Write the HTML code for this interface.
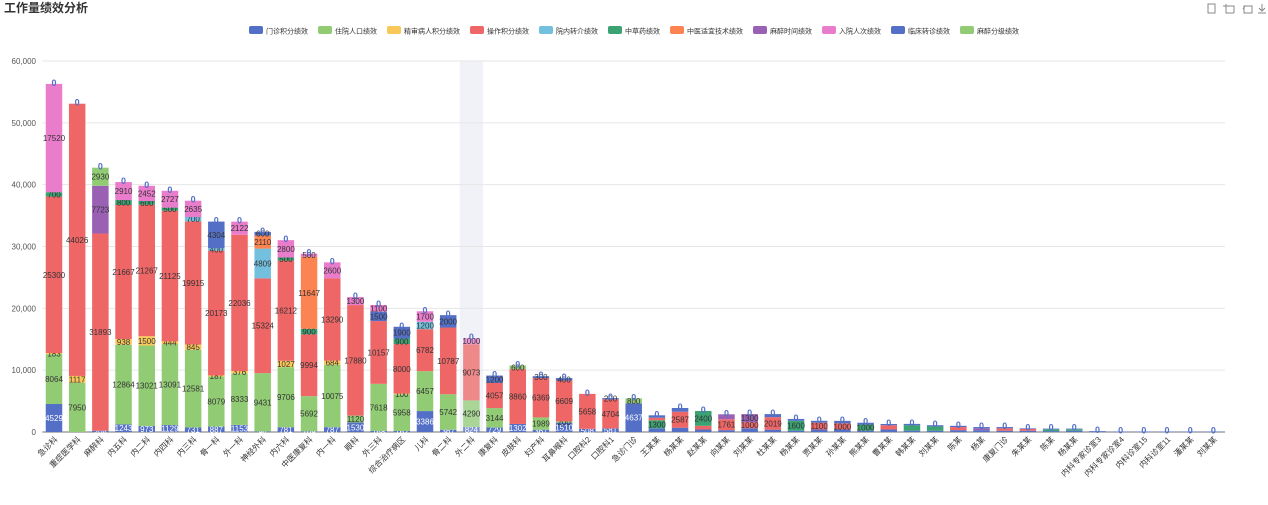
<!DOCTYPE html>
<html><head><meta charset="utf-8">
<style>
body{margin:0;background:#fff;width:1268px;height:500px;overflow:hidden;font-family:"Liberation Sans","Noto Sans CJK SC",sans-serif;}
</style></head><body>
<svg id="s" width="1268" height="500" xmlns="http://www.w3.org/2000/svg" font-family="Liberation Sans, Noto Sans CJK SC, sans-serif"></svg>
<script>
const C=['#5470c6','#91cc75','#fac858','#ee6666','#73c0de','#3ba272','#fc8452','#9a60b4','#ea7ccc','#5470c6','#91cc75'];
const names=['门诊积分绩效','住院人口绩效','精审病人积分绩效','操作积分绩效','院内转介绩效','中草药绩效','中医适宜技术绩效','麻醉时间绩效','入院人次绩效','临床转诊绩效','麻醉分级绩效'];
const cats=['急诊科','重症医学科','麻醉科','内五科','内二科','内四科','内三科','骨一科','外一科','神经外科','内六科','中医康复科','内一科','眼科','外三科','综合治疗病区','儿科','骨二科','外二科','康复科','皮肤科','妇产科','耳鼻喉科','口腔科2','口腔科1','急诊门诊','王某某','杨某某','赵某某','向某某','刘某某','杜某某','杨某某','贾某某','孙某某','熊某某','曹某某','韩某某','刘某某','陈某','杨某','康复门诊','朱某某','陈某','杨某某','内科专家诊室3','内科专家诊室4','内科诊室15','内科诊室11','潘某某','刘某某'];
const D=[
[[0,4529],[1,8064],[2,183],[3,25300],[5,700],[8,17520]],
[[1,7950],[2,1117],[3,44026]],
[[0,204],[3,31893],[7,7723],[10,2930]],
[[0,1243],[1,12864],[2,938],[3,21667],[5,800],[8,2910]],
[[0,973],[1,13021],[2,1500],[3,21267],[5,600],[8,2452]],
[[0,1129],[1,13091],[2,444],[3,21125],[5,500],[8,2727]],
[[0,731],[1,12581],[2,845],[3,19915],[4,700],[8,2635]],
[[0,887],[1,8079],[2,187],[3,20173],[4,400],[9,4304]],
[[0,1153],[1,8333],[2,376],[3,22036],[8,2122]],
[[0,94],[1,9431],[3,15324],[4,4809],[6,2110],[9,600]],
[[0,781],[1,9706],[2,1027],[3,16212],[5,500],[8,2800]],
[[0,109],[1,5692],[3,9994],[5,900],[6,11647],[8,500]],
[[0,787],[1,10075],[2,684],[3,13290],[8,2600]],
[[0,1530],[1,1120],[3,17880],[8,1300]],
[[0,168],[1,7618],[3,10157],[9,1500],[8,1100]],
[[0,162],[1,5958],[2,100],[3,8000],[5,900],[9,1900]],
[[0,3386],[1,6457],[3,6782],[4,1200],[8,1700]],
[[0,367],[1,5742],[3,10787],[9,2000]],
[[0,824],[1,4290],[3,9073],[8,1000]],
[[0,729],[1,3144],[3,4057],[9,1200]],
[[0,1302],[3,8860],[10,600]],
[[0,367],[1,1989],[3,6369],[9,300]],
[[0,1510],[1,200],[3,6609],[9,400]],
[[0,508],[3,5658]],
[[0,581],[3,4704],[9,200]],
[[0,4637],[1,800]],
[[0,600],[5,1300],[3,400],[9,400]],
[[0,694],[3,2587],[9,600]],
[[0,401],[3,600],[5,2400]],
[[0,300],[3,1761],[7,800]],
[[0,597],[3,1000],[7,1300]],
[[0,377],[3,2019],[9,500]],
[[0,212],[5,1600],[9,300]],
[[0,409],[3,1100],[9,300]],
[[0,401],[3,1000],[9,400]],
[[0,200],[5,1000],[9,300]],
[[0,400],[3,700],[9,200]],
[[0,212],[5,900],[9,200]],
[[0,200],[5,700],[9,200]],
[[0,300],[3,500],[9,200]],
[[0,300],[7,300],[9,200]],
[[0,200],[3,400],[9,200]],
[[0,200],[3,300],[9,100]],
[[0,150],[5,300],[9,100]],
[[0,200],[5,250],[9,100]],
[[0,100],[9,50]],[[0,80]],[[0,80]],[[0,80]],[[0,80]],[[0,80]]
];
const s=document.getElementById('s');let h='';
const x0=42.4,x1=1225,y0=432,py=(432-61)/60000,step=(x1-x0)/51,bw=16.5;
h+='<text x="4" y="12" font-size="12" font-weight="bold" fill="#333">工作量绩效分析</text>';
h+='<g stroke="#888" fill="none" stroke-width="1"><rect x="1208" y="4" width="7" height="9"/><path d="M1226 4v9h8M1223 6h11v7M1244 6h8v7h-8zM1243 9l2-3M1262 4v7M1259 8l3 3 3-3M1258 13h8"/></g>';
let lx=249;
names.forEach((n,i)=>{h+=`<rect x="${lx}" y="26" width="14" height="8" rx="2" fill="${C[i]}"/><text x="${lx+17}" y="33.5" font-size="7" fill="#333">${n}</text>`;lx+=17+n.length*7+10;});
h+=`<rect x="${x0+18*step}" y="61" width="${step}" height="371" fill="#f0f2f8"/>`;
for(let k=0;k<=6;k++){const y=y0-k*10000*py;h+=`<line x1="${x0}" x2="${x1}" y1="${y}" y2="${y}" stroke="#e6e6e6"/><text x="36" y="${y+3}" font-size="8" fill="#555" text-anchor="end">${(k*10000).toLocaleString('en')}</text>`;}
h+=`<line x1="${x0}" x2="${x1}" y1="${y0}" y2="${y0}" stroke="#6e7079"/>`;
D.forEach((b,i)=>{let cx=x0+step*(i+0.5),acc=0;const op=i==18?0.75:1;
 b.forEach(([c,v])=>{const y=y0-(acc+v)*py;h+=`<rect x="${cx-bw/2}" y="${y}" width="${bw}" height="${v*py}" fill="${C[c]}" opacity="${op}"/>`;
  if(v*py>6||i<26){h+=`<text x="${cx}" y="${y+v*py/2+3}" font-size="8" fill="${c==0?'#fff':'#333'}" text-anchor="middle">${v}</text>`;}acc+=v;});
 const ty=y0-acc*py;h+=`<text x="${cx}" y="${ty+2}" font-size="9" fill="#5470c6" text-anchor="middle" font-weight="bold">0</text>`;
 h+=`<text transform="translate(${cx+4},${y0+8}) rotate(-45)" font-size="8" fill="#333" text-anchor="end">${cats[i]}</text>`;
});
s.innerHTML=h;
</script>
</body></html>
